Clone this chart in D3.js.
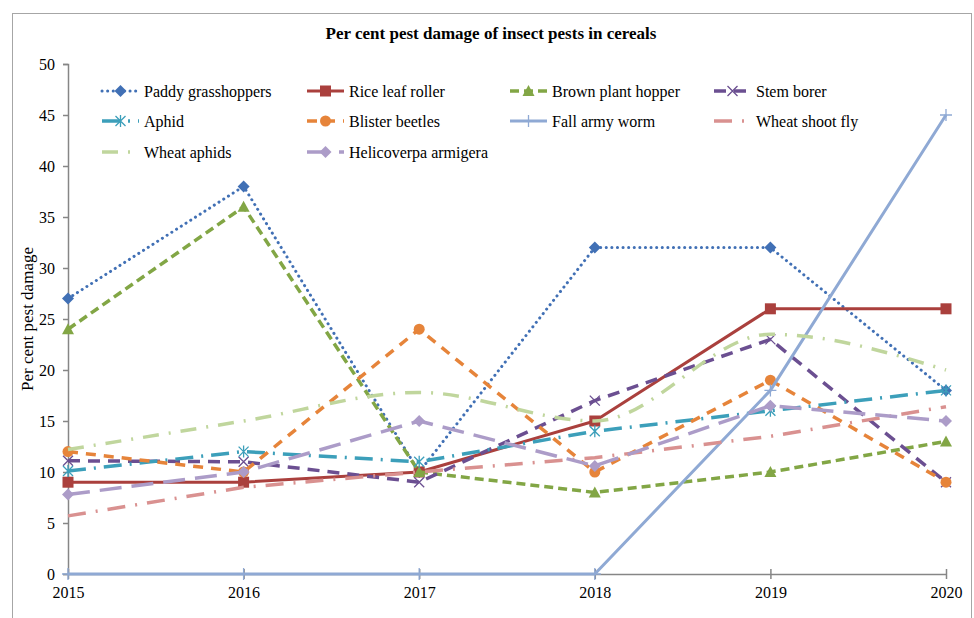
<!DOCTYPE html>
<html>
<head>
<meta charset="utf-8">
<script src="https://cdn.jsdelivr.net/npm/d3@7"></script>
<style>
  html, body { margin: 0; padding: 0; background: #fff; }
  svg text { font-family: "Liberation Serif", "Times New Roman", serif; fill: #000; }
</style>
</head>
<body>
<svg id="chart" width="974" height="618"></svg>
<script>
// ---- data ----
const years = [2015, 2016, 2017, 2018, 2019, 2020];
const yTicks = [0, 5, 10, 15, 20, 25, 30, 35, 40, 45, 50];

const paddyGrasshoppers = [27, 38, 10, 32, 32, 18];
const riceLeafRoller    = [9, 9, 10, 15, 26, 26];
const brownPlantHopper  = [24, 36, 10, 8, 10, 13];
const stemBorer         = [11.1, 11, 9, 17, 23, 9];
const aphid             = [10.1, 12, 11, 14, 16, 18];
const blisterBeetles    = [12, 10, 24, 10, 19, 9];
const fallArmyWorm      = [0, 0, 0, 0, 18, 45];
const wheatShootFly     = [5.7, 8.5, 10, 11.4, 13.5, 16.4];
const wheatAphids       = [12.2, 15, 17.8, 15, 23.5, 20];
const helicoverpa       = [7.8, 10, 15, 10.6, 16.5, 15];

const seriesNames = ["Paddy grasshoppers", "Rice leaf roller", "Brown plant hopper", "Stem borer",
  "Aphid", "Blister beetles", "Fall army worm", "Wheat shoot fly", "Wheat aphids", "Helicoverpa armigera"];
const seriesValues = [paddyGrasshoppers, riceLeafRoller, brownPlantHopper, stemBorer,
  aphid, blisterBeetles, fallArmyWorm, wheatShootFly, wheatAphids, helicoverpa];

// ---- styling per series ----
const styles = [
  { color: "#4170B5", dash: "0.1 5.5", cap: "round", width: 3, marker: "diamond", curve: "linear" },
  { color: "#AA403D", dash: null, cap: "butt", width: 3, marker: "square", curve: "linear" },
  { color: "#82A645", dash: "9 5", cap: "butt", width: 3.5, marker: "triangle", curve: "linear" },
  { color: "#6B4F91", dash: "12 8", cap: "butt", width: 3.5, marker: "x", curve: "linear" },
  { color: "#3C9FBA", dash: "18 8 2 8", cap: "butt", width: 3.5, marker: "star", curve: "linear" },
  { color: "#E6843A", dash: "10 8", cap: "butt", width: 3.5, marker: "circle", curve: "linear" },
  { color: "#8FA9D4", dash: null, cap: "butt", width: 3, marker: "plus", curve: "linear" },
  { color: "#D99190", dash: "18 10 2 10", cap: "butt", width: 3.5, marker: "none", curve: "linear" },
  { color: "#C0D69D", dash: "16 10 2 10", cap: "butt", width: 3.5, marker: "none", curve: "smooth" },
  { color: "#AC9CC8", dash: "22 10", cap: "butt", width: 3.5, marker: "diamond", curve: "linear" }
];

const svg = d3.select("#chart");
const W = 974, H = 618;
const plot = { left: 68, right: 946, top: 64, bottom: 574 };

svg.append("rect").attr("x", 0).attr("y", 0).attr("width", W).attr("height", H).attr("fill", "#fff");
// outer frame
svg.append("rect").attr("x", 12.5).attr("y", 13.5).attr("width", 959).attr("height", 610)
  .attr("fill", "none").attr("stroke", "#a6a6a6").attr("stroke-width", 1);

const x = d3.scalePoint().domain(years).range([plot.left, plot.right]);
const y = d3.scaleLinear().domain([0, 50]).range([plot.bottom, plot.top]);

// title
svg.append("text").attr("x", 491).attr("y", 39).attr("text-anchor", "middle")
  .style("font-size", "17px").style("font-weight", "bold")
  .text("Per cent pest damage of insect pests in cereals");

// y axis
const yAxis = d3.axisLeft(y).tickValues(yTicks).tickSize(5).tickPadding(8);
const gy = svg.append("g").attr("transform", `translate(${plot.left},0)`).call(yAxis);
gy.select(".domain").attr("stroke", "#868686").attr("stroke-width", 1.5);
gy.selectAll(".tick line").attr("stroke", "#868686").attr("stroke-width", 1.5);
gy.selectAll(".tick text").style("font-size", "16px").style("font-family", "Liberation Serif, serif").attr("fill", "#000");

// x axis (ticks cross the line)
const xAxis = d3.axisBottom(x).tickSize(0).tickPadding(13);
const gx = svg.append("g").attr("transform", `translate(0,${plot.bottom})`).call(xAxis);
gx.select(".domain").attr("stroke", "#868686").attr("stroke-width", 1.5);
gx.selectAll(".tick").append("line").attr("y1", -5).attr("y2", 5)
  .attr("stroke", "#868686").attr("stroke-width", 1.5);
gx.selectAll(".tick text").style("font-size", "16px").style("font-family", "Liberation Serif, serif").attr("fill", "#000");

// y axis title
svg.append("text").attr("transform", "translate(33,319) rotate(-90)").attr("text-anchor", "middle")
  .style("font-size", "17px").text("Per cent pest damage");

// marker shapes
function drawMarker(g, type, color, cx, cy) {
  const s = 5.5;
  if (type === "diamond") {
    g.append("path").attr("d", `M${cx},${cy - 6}L${cx + 6},${cy}L${cx},${cy + 6}L${cx - 6},${cy}Z`).attr("fill", color);
  } else if (type === "square") {
    g.append("rect").attr("x", cx - s).attr("y", cy - s).attr("width", 2 * s).attr("height", 2 * s).attr("fill", color);
  } else if (type === "triangle") {
    g.append("path").attr("d", `M${cx},${cy - 6}L${cx + 6},${cy + 5}L${cx - 6},${cy + 5}Z`).attr("fill", color);
  } else if (type === "circle") {
    g.append("circle").attr("cx", cx).attr("cy", cy).attr("r", 5.5).attr("fill", color);
  } else if (type === "x") {
    g.append("path").attr("d", `M${cx - 5},${cy - 5}L${cx + 5},${cy + 5}M${cx - 5},${cy + 5}L${cx + 5},${cy - 5}`)
      .attr("stroke", color).attr("stroke-width", 1.3).attr("fill", "none");
  } else if (type === "star") {
    g.append("path").attr("d", `M${cx - 5},${cy - 5}L${cx + 5},${cy + 5}M${cx - 5},${cy + 5}L${cx + 5},${cy - 5}M${cx},${cy - 6}L${cx},${cy + 6}`)
      .attr("stroke", color).attr("stroke-width", 1.3).attr("fill", "none");
  } else if (type === "plus") {
    g.append("path").attr("d", `M${cx - 6},${cy}L${cx + 6},${cy}M${cx},${cy - 6}L${cx},${cy + 6}`)
      .attr("stroke", color).attr("stroke-width", 1.3).attr("fill", "none");
  }
}

// series lines + markers
const linesG = svg.append("g");
seriesValues.forEach((vals, i) => {
  const st = styles[i];
  const line = d3.line()
    .x((d, j) => x(years[j]))
    .y(d => y(d))
    .curve(st.curve === "smooth" ? d3.curveMonotoneX : d3.curveLinear);
  const g = linesG.append("g");
  const p = g.append("path").datum(vals).attr("d", line)
    .attr("fill", "none").attr("stroke", st.color).attr("stroke-width", st.width)
    .attr("stroke-linecap", st.cap).attr("stroke-linejoin", "round");
  if (st.dash) p.attr("stroke-dasharray", st.dash);
  vals.forEach((v, j) => drawMarker(g, st.marker, st.color, x(years[j]), y(v)));
});

// legend
const legendCols = [102, 307, 510, 714];
const legendRows = [91, 121, 152];
const legendG = svg.append("g");
seriesNames.forEach((name, i) => {
  const st = styles[i];
  const col = i % 4, row = Math.floor(i / 4);
  const lx = legendCols[col], ly = legendRows[row];
  const g = legendG.append("g");
  const p = g.append("line").attr("x1", lx).attr("x2", lx + 37).attr("y1", ly).attr("y2", ly)
    .attr("stroke", st.color).attr("stroke-width", st.width).attr("stroke-linecap", st.cap);
  if (st.dash) p.attr("stroke-dasharray", st.dash);
  drawMarker(g, st.marker, st.color, lx + 18.5, ly);
  g.append("text").attr("x", lx + 42).attr("y", ly + 5.5).style("font-size", "16px").text(name);
});
</script>
</body>
</html>
